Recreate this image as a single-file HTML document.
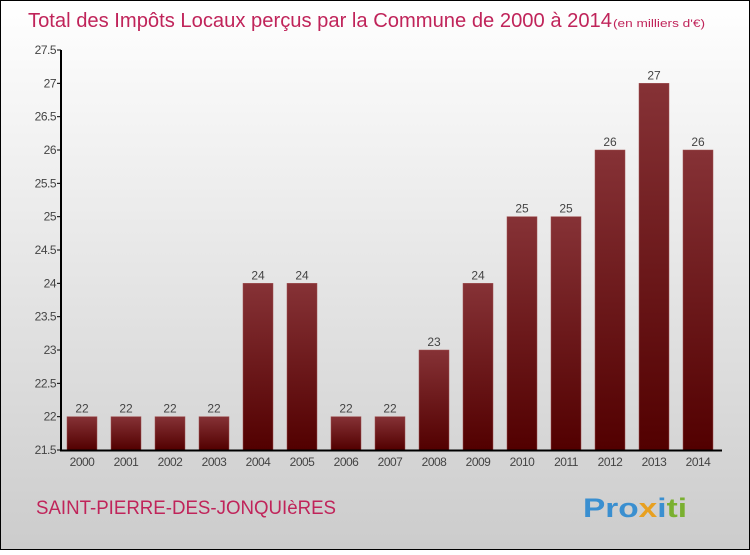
<!DOCTYPE html>
<html><head><meta charset="utf-8"><style>
body{margin:0;width:750px;height:550px;overflow:hidden;font-family:"Liberation Sans",sans-serif}
</style></head><body>
<svg width="750" height="550" xmlns="http://www.w3.org/2000/svg">
<defs>
<linearGradient id="bg" x1="0" y1="0" x2="0" y2="1"><stop offset="0" stop-color="#ffffff"/><stop offset="1" stop-color="#cccccc"/></linearGradient>
<linearGradient id="bar" x1="0" y1="0" x2="0" y2="1"><stop offset="0" stop-color="#863236"/><stop offset="1" stop-color="#520000"/></linearGradient>
</defs>
<rect x="0.5" y="0.5" width="749" height="549" fill="url(#bg)" stroke="#000"/>
<text x="28" y="27" font-size="20" fill="#c0245a" textLength="584" lengthAdjust="spacingAndGlyphs">Total des Impôts Locaux perçus par la Commune de 2000 à 2014</text>
<text x="613" y="27" font-size="11" fill="#c0245a" textLength="92" lengthAdjust="spacingAndGlyphs">(en milliers d'€)</text>
<g id="plot"></g>
<text x="36" y="514" font-size="19" fill="#c0245a" textLength="300" lengthAdjust="spacingAndGlyphs">SAINT-PIERRE-DES-JONQUIèRES</text>
<text x="583" y="517" font-size="27" font-weight="bold" textLength="104" lengthAdjust="spacingAndGlyphs"><tspan fill="#3a8fd0">Pro</tspan><tspan fill="#e8a020">x</tspan><tspan fill="#3a8fd0">i</tspan><tspan fill="#7ab030">ti</tspan></text>
</svg>
<script>
const categories=["2000","2001","2002","2003","2004","2005","2006","2007","2008","2009","2010","2011","2012","2013","2014"];
const values=[22,22,22,22,24,24,22,22,23,24,25,25,26,27,26];
const yTicks=[21.5,22,22.5,23,23.5,24,24.5,25,25.5,26,26.5,27,27.5];
const NS="http://www.w3.org/2000/svg";
const g=document.getElementById('plot');
const y=v=>450-(v-21.5)*(400/6);
const x=i=>67+i*44;
function mk(t,a){const e=document.createElementNS(NS,t);for(const k in a)e.setAttribute(k,a[k]);g.appendChild(e);return e;}
yTicks.forEach(t=>{
 const l=mk('line',{x1:57,x2:61,y1:y(t),y2:y(t),stroke:'#000'});
 
 
 const tx=mk('text',{x:56,y:y(t)+4,'text-anchor':'end','font-size':12,fill:'#444','letter-spacing':'-0.5'});
 tx.textContent=String(t);
 
 
});
values.forEach((v,i)=>{
 const r=mk('rect',{x:x(i),y:y(v),width:30,height:450-y(v),fill:'url(#bar)',stroke:'#a05050','stroke-width':0.5});
 
 
 const t=mk('text',{x:x(i)+15,y:y(v)-4,'text-anchor':'middle','font-size':12,fill:'#444'});
 t.textContent=String(v);
 
 
 const c=mk('text',{x:x(i)+15,y:466,'text-anchor':'middle','font-size':12,fill:'#444','letter-spacing':'-0.5'});
 c.textContent=categories[i];
 
 
});
const ya=mk('line',{x1:61,x2:61,y1:50,y2:451,stroke:'#000','stroke-width':2});


const xa=mk('line',{x1:60,x2:722,y1:450.5,y2:450.5,stroke:'#000','stroke-width':2});


</script>
</body></html>
